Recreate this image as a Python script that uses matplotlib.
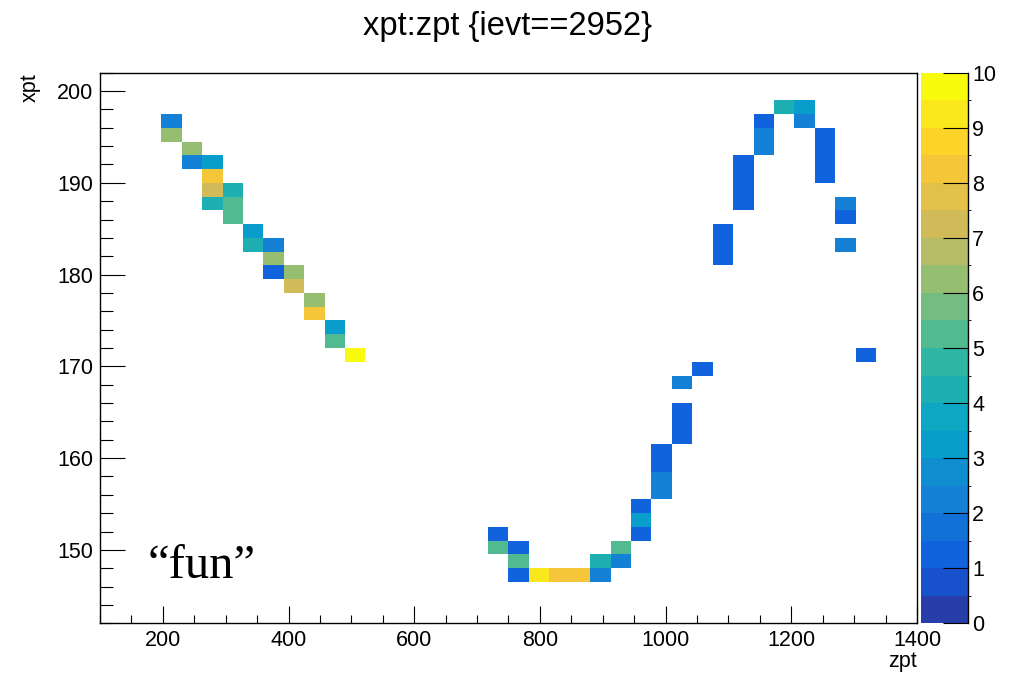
import numpy as np
import matplotlib
matplotlib.use("Agg")
import matplotlib.pyplot as plt
from matplotlib.colors import LinearSegmentedColormap, ListedColormap, BoundaryNorm
from matplotlib.ticker import MultipleLocator

plt.rcParams["font.family"] = ["Liberation Sans", "DejaVu Sans"]

# bin centres of the filled cells (zpt, xpt) and their contents
zpt = [213.75, 213.75, 246.25, 246.25, 278.75, 278.75, 278.75, 311.25, 278.75,
       311.25, 311.25, 343.75, 343.75, 376.25, 376.25, 376.25, 408.75, 408.75,
       441.25, 441.25, 473.75, 473.75, 506.25,
       733.75, 733.75, 766.25, 766.25, 766.25, 798.75, 831.25, 863.75, 896.25,
       896.25, 928.75, 928.75, 961.25, 961.25, 961.25, 993.75, 993.75, 993.75,
       993.75, 1026.25, 1026.25, 1026.25, 1026.25, 1058.75,
       1091.25, 1091.25, 1091.25, 1123.75, 1123.75, 1123.75, 1123.75,
       1156.25, 1156.25, 1156.25, 1188.75, 1221.25, 1221.25,
       1253.75, 1253.75, 1253.75, 1253.75, 1286.25, 1286.25, 1286.25, 1318.75]
xpt = [196.75, 195.25, 193.75, 192.25, 192.25, 190.75, 189.25, 189.25, 187.75,
       187.75, 186.25, 184.75, 183.25, 183.25, 181.75, 180.25, 180.25, 178.75,
       177.25, 175.75, 174.25, 172.75, 171.25,
       151.75, 150.25, 150.25, 148.75, 147.25, 147.25, 147.25, 147.25, 148.75,
       147.25, 150.25, 148.75, 154.75, 153.25, 151.75, 160.75, 159.25, 157.75,
       156.25, 168.25, 165.25, 163.75, 162.25, 169.75,
       184.75, 183.25, 181.75, 192.25, 190.75, 189.25, 187.75,
       196.75, 195.25, 193.75, 198.25, 198.25, 196.75,
       195.25, 193.75, 192.25, 190.75, 187.75, 186.25, 183.25, 171.25]
counts = [2, 6, 6, 2, 3, 8, 7, 4, 4,
          5, 5, 3, 4, 2, 6, 1, 6, 7,
          6, 8, 3, 5, 10,
          1, 5, 1, 5, 1, 9, 8, 8, 4,
          2, 5, 2, 1, 3, 1, 1, 1, 2,
          2, 2, 1, 1, 1, 1,
          1, 1, 1, 1, 1, 1, 1,
          1, 2, 2, 4, 3, 2,
          1, 1, 1, 1, 2, 1, 2, 1]

z_edges = np.linspace(100, 1400, 41)
x_edges = np.linspace(142, 202, 41)

H, _, _ = np.histogram2d(zpt, xpt, bins=[z_edges, x_edges], weights=counts)
H = np.ma.masked_equal(H.T, 0)

# ROOT kBird palette, 20 contour levels
stops = [0.0, 0.125, 0.25, 0.375, 0.5, 0.625, 0.75, 0.875, 1.0]
red = [0.2082, 0.0592, 0.0780, 0.0232, 0.1802, 0.5301, 0.8186, 0.9956, 0.9764]
green = [0.1664, 0.3599, 0.5041, 0.6419, 0.7178, 0.7492, 0.7328, 0.7862, 0.9832]
blue = [0.5293, 0.8684, 0.8385, 0.7914, 0.6425, 0.4662, 0.3499, 0.1968, 0.0539]
bird = LinearSegmentedColormap.from_list(
    "bird", list(zip(stops, zip(red, green, blue))), N=255)
idx = [int((k + 0.99) * 255 / 20) for k in range(20)]
cmap = ListedColormap([bird(i) for i in idx])
norm = BoundaryNorm(np.arange(0, 10.5, 0.5), 20, clip=True)

fig = plt.figure(figsize=(10.15, 6.75), dpi=100)
ax = fig.add_axes([0.0985, 0.0766, 0.8049, 0.8157])
mesh = ax.pcolormesh(z_edges, x_edges, H, cmap=cmap, norm=norm, linewidth=0)

ax.set_xlim(100, 1400)
ax.set_ylim(142, 202)
ax.xaxis.set_major_locator(MultipleLocator(200))
ax.xaxis.set_minor_locator(MultipleLocator(50))
ax.yaxis.set_major_locator(MultipleLocator(10))
ax.yaxis.set_minor_locator(MultipleLocator(2))
ax.tick_params(axis="x", which="major", direction="in", length=12, width=0.8, labelsize=15.5, pad=5)
ax.tick_params(axis="x", which="minor", direction="in", length=6, width=0.8)
ax.tick_params(axis="y", which="major", direction="in", length=18, width=0.8, labelsize=15.5, pad=5)
ax.tick_params(axis="y", which="minor", direction="in", length=9.5, width=0.8)
for s in ax.spines.values():
    s.set_linewidth(1.0)

cax = fig.add_axes([0.9074, 0.0766, 0.0463, 0.8157])
cb = fig.colorbar(mesh, cax=cax, ticks=range(11))
cb.outline.set_visible(False)
cax.spines["right"].set_visible(True)
cax.spines["right"].set_linewidth(1.0)
cax.tick_params(direction="in", length=18, width=0.8, labelsize=15.5, pad=3)

fig.text(0.5, 1 - 27 / 675, "xpt:zpt {ievt==2952}", ha="center", va="center", fontsize=23.5)
fig.text(30 / 1015, 1 - 73 / 675, "xpt", rotation=90, ha="center", va="top", fontsize=15.5)
fig.text(917 / 1015, 1 - 661 / 675, "zpt", ha="right", va="center", fontsize=15.5)
fig.text(148 / 1015, 1 - 578 / 675, "\u201cfun\u201d", ha="left", va="baseline",
         fontsize=35, family=["Liberation Serif", "DejaVu Serif"])

fig.savefig("out.png", dpi=100)
